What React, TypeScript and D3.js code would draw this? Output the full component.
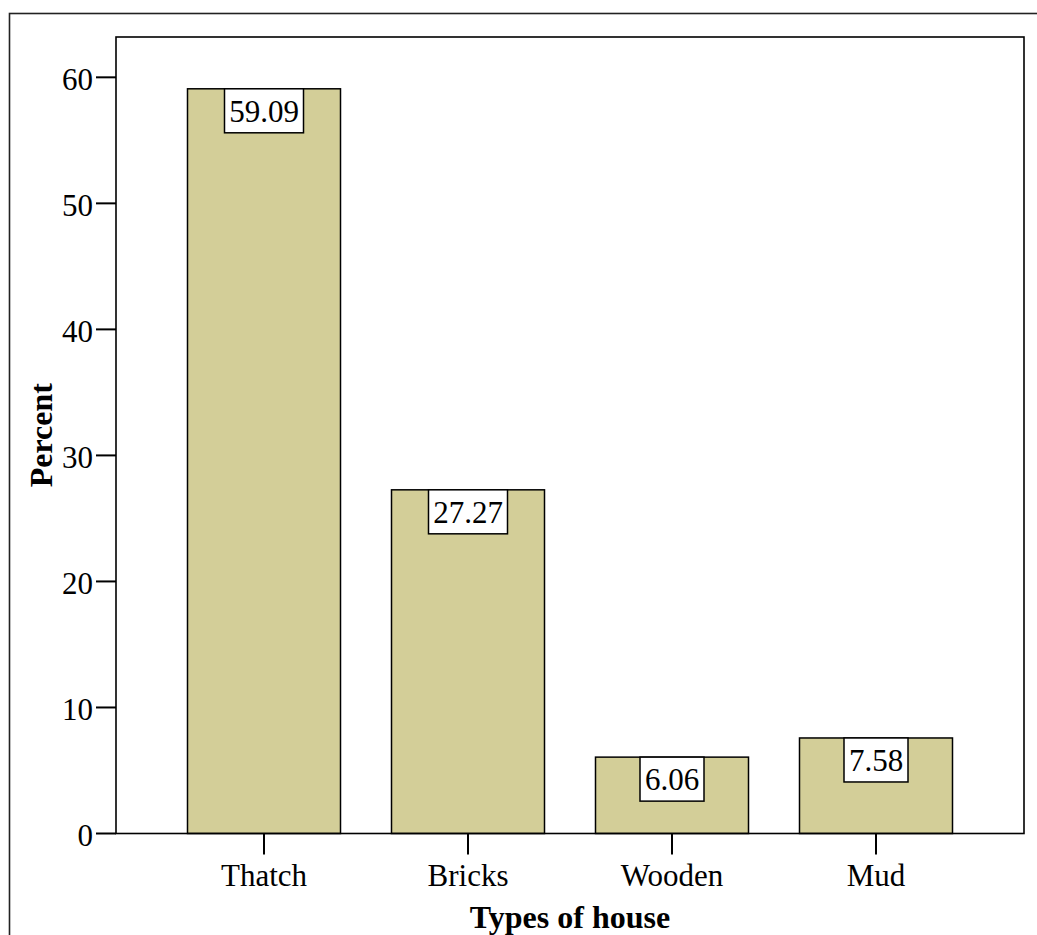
import React from "react";
import * as d3 from "d3";

const categories = ["Thatch", "Bricks", "Wooden", "Mud"];
const values = [59.09, 27.27, 6.06, 7.58];
const yTicks = [0, 10, 20, 30, 40, 50, 60];
const xTitle = "Types of house";
const yTitle = "Percent";

const W = 1037;
const H = 935;
const left = 116, right = 1024, top = 37, bottom = 833.5;
const font = "'Liberation Serif', 'Times New Roman', serif";
const fill = "#D3CE98";

export default function App() {
  const y = d3.scaleLinear().domain([0, 63.2]).range([bottom, top]);
  const x = d3.scalePoint<string>().domain(categories).range([264, 876]);
  const barW = 153;
  const fs = 31;

  return (
    <svg width={W} height={H} style={{ position: "absolute", left: 0, top: 0, background: "#fff" }}>
      <rect x={0} y={0} width={W} height={H} fill="#fff" />
      <rect x={9.5} y={13.5} width={W + 20} height={H + 20} fill="none" stroke="#222" strokeWidth={1.6} />
      {categories.map((c, i) => {
        const cx = x(c)!;
        const yt = y(values[i]);
        return (
          <g key={c}>
            <rect x={cx - barW / 2} y={yt} width={barW} height={y(0) - yt} fill={fill} stroke="#000" strokeWidth={1.5} />
          </g>
        );
      })}
      <rect x={left} y={top} width={right - left} height={bottom - top} fill="none" stroke="#000" strokeWidth={1.6} />
      {yTicks.map((t) => (
        <g key={t}>
          <line x1={96} x2={left} y1={y(t)} y2={y(t)} stroke="#000" strokeWidth={2} />
          <text x={93} y={y(t)} dy="0.4em" textAnchor="end" fontFamily={font} fontSize={fs}>{t}</text>
        </g>
      ))}
      {categories.map((c) => (
        <g key={c + "t"}>
          <line x1={x(c)!} x2={x(c)!} y1={bottom} y2={bottom + 21} stroke="#000" strokeWidth={2} />
          <text x={x(c)!} y={886} textAnchor="middle" fontFamily={font} fontSize={fs}>{c}</text>
        </g>
      ))}
      {categories.map((c, i) => {
        const label = values[i].toFixed(2);
        const cx = x(c)!;
        const yt = y(values[i]);
        const tw = label.length === 5 ? 79 : 64;
        return (
          <g key={c + "l"}>
            <rect x={cx - tw / 2} y={yt} width={tw} height={44} fill="#fff" stroke="#000" strokeWidth={1.5} />
            <text x={cx} y={yt + 33} textAnchor="middle" fontFamily={font} fontSize={fs}>{label}</text>
          </g>
        );
      })}
      <text x={(left + right) / 2} y={928} textAnchor="middle" fontFamily={font} fontSize={32} fontWeight="bold">{xTitle}</text>
      <text transform={`translate(52, ${(top + bottom) / 2}) rotate(-90)`} textAnchor="middle" fontFamily={font} fontSize={32} fontWeight="bold">{yTitle}</text>
    </svg>
  );
}
